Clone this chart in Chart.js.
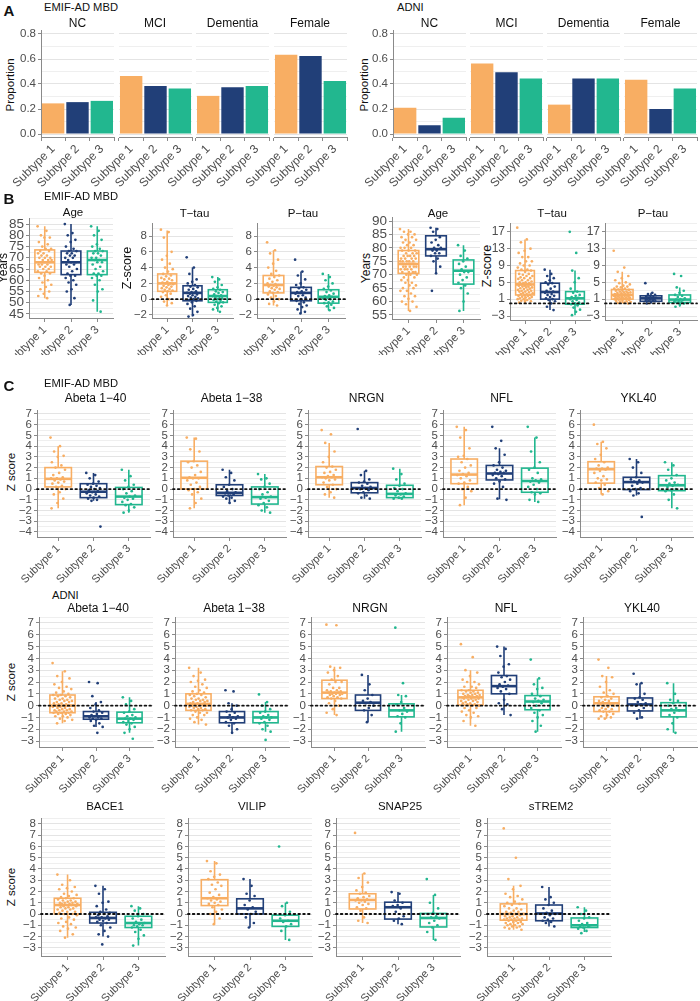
<!DOCTYPE html>
<html>
<head>
<meta charset="utf-8">
<script src="https://cdn.jsdelivr.net/npm/chart.js@4.4.1/dist/chart.umd.min.js"></script>
<style>
  body { margin: 0; background: #fff; width: 700px; height: 1001px; position: relative; overflow: hidden;
         font-family: 'Liberation Sans', Arial, sans-serif; }
  canvas { position: absolute; }
  .t { position: absolute; white-space: nowrap; color: #111; line-height: 1; }
</style>
</head>
<body>
<script>
// Subtype groups and colours
const subtypes = ['Subtype 1', 'Subtype 2', 'Subtype 3'];
const subtypeColors = ['#F8AE63', '#213F78', '#22B78F'];

// ---- Panel A: proportions (Subtype 1, 2, 3) per facet
const facetsA = ['NC', 'MCI', 'Dementia', 'Female'];
const emifProportions = [[0.245, 0.255, 0.265], [0.465, 0.385, 0.365], [0.305, 0.375, 0.385], [0.635, 0.625, 0.425]];
const adniProportions = [[0.21, 0.07, 0.13], [0.565, 0.495, 0.445], [0.235, 0.445, 0.445], [0.435, 0.20, 0.365]];

// tick labels
const propTicks = [0, 0.2, 0.4, 0.6, 0.8];
const ageTicksEmif = [45, 50, 55, 60, 65, 70, 75, 80, 85];
const ageTicksAdni = [55, 60, 65, 70, 75, 80, 85, 90];
const tauTicksEmif = [-2, 0, 2, 4, 6, 8];
const tauTicksAdni = [-3, 1, 5, 9, 13, 17];
const zTicksEmif = [-4, -3, -2, -1, 0, 1, 2, 3, 4, 5, 6, 7];
const zTicksAdni = [-3, -2, -1, 0, 1, 2, 3, 4, 5, 6, 7];
const zTicksLast = [-3, -2, -1, 0, 1, 2, 3, 4, 5, 6, 7, 8];

// ---- Panel B: box stats [low whisker, q1, median, q3, high whisker] and points
const emifAgeStats = [[52, 63.5, 68, 73.5, 84], [49, 62.5, 68, 73, 85], [46, 62.5, 69, 73, 84]];
const emifAgePoints = [
  [84, 82, 80, 79, 79, 77, 76, 75, 74, 74, 73, 73, 72, 72, 71, 71, 70, 70, 70, 69, 69, 69, 68, 68, 68, 68, 67, 67, 67, 66, 66, 66, 65, 65, 64, 64, 63, 63, 62, 61, 60, 59, 58, 57, 56, 55, 54, 53, 52],
  [85, 81, 80, 78, 77, 75, 74, 73, 73, 72, 72, 71, 71, 70, 70, 69, 68, 68, 67, 67, 66, 65, 64, 63, 62, 62, 61, 60, 59, 58, 56, 55, 52, 49],
  [84, 82, 80, 78, 76, 75, 74, 73, 73, 72, 72, 71, 70, 70, 69, 69, 68, 68, 67, 66, 65, 64, 63, 63, 62, 62, 61, 60, 58, 56, 55, 51, 46]
];
const emifTtauStats = [[-0.8, 1.0, 2.0, 3.2, 8.7], [-2.2, -0.2, 0.8, 1.7, 4.0], [-1.6, -0.4, 0.4, 1.2, 2.8]];
const emifTtauPoints = [
  [8.8, 8.5, 7.8, 6.0, 5.5, 5.0, 4.5, 4.0, 3.8, 3.5, 3.2, 3.0, 2.9, 2.7, 2.6, 2.5, 2.4, 2.2, 2.1, 2.0, 2.0, 1.9, 1.8, 1.7, 1.6, 1.5, 1.4, 1.3, 1.2, 1.1, 1.0, 0.9, 0.7, 0.5, 0.3, 0.0, -0.3, -0.5, -0.8],
  [5.3, 4.0, 3.2, 2.5, 2.2, 2.0, 1.8, 1.6, 1.5, 1.3, 1.2, 1.0, 0.9, 0.8, 0.8, 0.7, 0.6, 0.5, 0.4, 0.3, 0.2, 0.1, 0.0, -0.1, -0.2, -0.4, -0.6, -0.9, -1.2, -1.6, -2.0, -2.2],
  [2.8, 2.5, 2.2, 1.8, 1.5, 1.3, 1.2, 1.0, 0.9, 0.8, 0.6, 0.5, 0.4, 0.4, 0.3, 0.2, 0.1, 0.0, -0.1, -0.2, -0.3, -0.4, -0.5, -0.7, -0.9, -1.1, -1.3, -1.6]
];
const emifPtauStats = [[-0.8, 0.8, 1.8, 3.0, 6.2], [-1.8, -0.2, 0.8, 1.5, 3.5], [-1.4, -0.5, 0.3, 1.2, 3.2]];
const emifPtauPoints = [
  [7.2, 6.2, 5.8, 5.0, 4.5, 4.0, 3.6, 3.2, 3.0, 2.8, 2.6, 2.4, 2.2, 2.0, 1.9, 1.8, 1.8, 1.7, 1.6, 1.5, 1.4, 1.3, 1.2, 1.0, 0.9, 0.8, 0.6, 0.4, 0.2, 0.0, -0.3, -0.6, -0.8],
  [5.0, 3.5, 3.0, 2.5, 2.0, 1.8, 1.5, 1.4, 1.2, 1.0, 0.9, 0.8, 0.8, 0.7, 0.5, 0.4, 0.2, 0.0, -0.2, -0.4, -0.6, -0.8, -1.0, -1.3, -1.6, -1.8],
  [3.2, 2.8, 2.4, 2.0, 1.6, 1.3, 1.1, 0.9, 0.7, 0.5, 0.4, 0.3, 0.2, 0.1, 0.0, -0.1, -0.3, -0.4, -0.5, -0.7, -0.9, -1.1, -1.4]
];
const adniAgeStats = [[56.5, 70.5, 74, 79, 87], [70.5, 77, 79.5, 84.5, 87.5], [56.5, 66.5, 71.5, 75.5, 81]];
const adniAgePoints = [
  [87, 86, 86, 85, 85, 84, 84, 83, 83, 82, 82, 81, 81, 80, 80, 80, 79, 79, 79, 78, 78, 78, 77, 77, 77, 77, 76, 76, 76, 76, 75, 75, 75, 75, 75, 74, 74, 74, 74, 74, 74, 73, 73, 73, 73, 73, 72, 72, 72, 72, 71, 71, 71, 71, 70, 70, 70, 69, 69, 68, 68, 67, 67, 66, 66, 65, 65, 64, 64, 63, 62, 62, 61, 60, 60, 59, 58, 56.5],
  [87.5, 87, 86, 84, 83, 82, 81, 80, 80, 79, 79, 78, 78, 77, 76, 75, 73, 70.5, 64],
  [81, 79, 77, 76, 75, 74, 73, 72, 71, 71, 70, 69, 68, 67, 66, 65, 63, 60, 56.5]
];
const adniTtauStats = [[0.2, 2.0, 4.5, 7.8, 15.2], [-1.6, 1.0, 2.7, 4.8, 8.0], [-2.8, -0.2, 1.2, 2.8, 7.8]];
const adniTtauPoints = [
  [18, 15.2, 14.5, 13, 12.5, 12, 11, 11, 10, 10, 9.5, 9, 9, 8.5, 8, 8, 7.8, 7.5, 7, 7, 6.8, 6.5, 6.5, 6.2, 6, 6, 5.8, 5.5, 5.5, 5.2, 5, 5, 4.8, 4.8, 4.6, 4.5, 4.5, 4.4, 4.2, 4.2, 4, 4, 3.8, 3.8, 3.6, 3.5, 3.4, 3.2, 3.2, 3, 3, 2.8, 2.8, 2.6, 2.5, 2.4, 2.2, 2.2, 2, 2, 1.8, 1.8, 1.6, 1.5, 1.4, 1.2, 1.2, 1, 1, 0.8, 0.6, 0.5, 0.4, 0.2],
  [8, 7, 6.5, 6, 5.5, 5, 4.8, 4.5, 4, 3.5, 3, 2.8, 2.7, 2.5, 2.2, 2, 1.8, 1.5, 1.2, 1, 0.8, 0.5, 0, -0.8, -1.6],
  [17, 12, 7.8, 6, 5, 3.5, 2.8, 2.5, 2, 1.8, 1.5, 1.3, 1.2, 1, 0.8, 0.5, 0.2, 0, -0.2, -0.5, -1, -1.5, -2, -2.8]
];
const adniPtauStats = [[0, 1.0, 2.0, 3.3, 7.5], [0, 0.5, 1.2, 1.8, 2.5], [-0.8, 0.2, 0.9, 2.0, 3.8]];
const adniPtauPoints = [
  [12.5, 8.5, 7.5, 6.5, 6, 5.5, 5, 4.8, 4.5, 4.2, 4, 4, 3.8, 3.5, 3.5, 3.3, 3.2, 3, 3, 2.8, 2.8, 2.6, 2.6, 2.5, 2.5, 2.4, 2.2, 2.2, 2.1, 2, 2, 2, 1.9, 1.9, 1.8, 1.8, 1.7, 1.6, 1.5, 1.5, 1.4, 1.4, 1.3, 1.2, 1.2, 1.1, 1, 1, 1, 0.9, 0.8, 0.8, 0.6, 0.5, 0.4, 0.3, 0.2, 0.1, 0],
  [4.8, 2.5, 2.2, 2, 1.8, 1.7, 1.5, 1.4, 1.3, 1.2, 1.1, 1, 0.9, 0.8, 0.7, 0.6, 0.5, 0.3, 0],
  [7, 6.5, 3.8, 3, 2.5, 2, 1.8, 1.5, 1.2, 1, 0.9, 0.8, 0.6, 0.5, 0.3, 0.2, 0, -0.3, -0.8]
];

// ---- Panel C, EMIF-AD MBD
const emifAb40Stats = [[-1.8, 0.2, 0.95, 2.0, 4.0], [-1.1, -0.8, -0.25, 0.5, 1.5], [-2.2, -1.45, -0.7, 0.15, 1.8]];
const emifAb40Points = [
  [4.8, 4.0, 3.5, 3.1, 3.0, 2.5, 2.2, 2.0, 1.8, 1.5, 1.3, 1.1, 1.0, 1.0, 0.9, 0.8, 0.7, 0.6, 0.5, 0.3, 0.2, 0.0, -0.3, -0.5, -0.9, -1.3, -1.8],
  [1.5, 1.3, 1.0, 0.7, 0.5, 0.4, 0.3, 0.2, 0.1, 0.0, -0.1, -0.2, -0.3, -0.4, -0.5, -0.6, -0.7, -0.8, -0.9, -1.0, -1.1, -3.5],
  [1.8, 1.2, 0.8, 0.4, 0.2, 0.0, -0.2, -0.4, -0.6, -0.7, -0.8, -0.9, -1.0, -1.2, -1.4, -1.5, -1.7, -2.0, -2.2]
];
const emifAb38Stats = [[-1.8, 0.0, 1.05, 2.6, 4.8], [-1.3, -0.6, -0.35, 0.4, 1.8], [-2.2, -1.4, -0.75, 0.2, 1.4]];
const emifAb38Points = [
  [4.8, 4.7, 3.7, 3.5, 2.6, 2.5, 2.2, 2.0, 1.6, 1.3, 1.1, 1.0, 1.0, 0.8, 0.6, 0.4, 0.2, 0.0, -0.1, -0.3, -0.5, -0.9, -1.3, -1.8],
  [1.8, 1.5, 1.1, 0.8, 0.4, 0.2, 0.0, -0.2, -0.3, -0.4, -0.4, -0.5, -0.6, -0.7, -0.8, -0.9, -1.1, -1.3],
  [1.4, 1.0, 0.9, 0.5, 0.2, 0.0, -0.3, -0.5, -0.7, -0.8, -0.9, -1.1, -1.3, -1.5, -1.7, -2.0, -2.2]
];
const emifNrgnStats = [[-0.8, 0.4, 1.1, 2.1, 4.3], [-0.9, -0.35, 0.1, 0.6, 1.7], [-0.9, -0.8, -0.45, 0.35, 1.9]];
const emifNrgnPoints = [
  [5.5, 5.1, 4.3, 3.5, 3.0, 2.5, 2.1, 2.0, 1.8, 1.6, 1.5, 1.3, 1.2, 1.1, 1.1, 1.0, 0.9, 0.8, 0.6, 0.4, 0.2, 0.0, -0.3, -0.5, -0.8],
  [5.6, 1.7, 1.3, 0.9, 0.7, 0.6, 0.5, 0.3, 0.2, 0.1, 0.0, -0.1, -0.3, -0.4, -0.6, -0.8, -0.9],
  [1.9, 1.4, 0.9, 0.5, 0.3, 0.1, 0.0, -0.2, -0.4, -0.5, -0.6, -0.7, -0.8, -0.9, -0.9]
];
const emifNflStats = [[-1.5, 0.5, 1.35, 2.8, 5.8], [-0.95, 0.85, 1.45, 2.2, 3.8], [-1.2, -0.3, 0.75, 1.95, 4.8]];
const emifNflPoints = [
  [5.8, 5.5, 4.8, 3.8, 3.1, 3.0, 2.8, 2.5, 2.2, 2.0, 1.7, 1.5, 1.4, 1.3, 1.2, 1.0, 0.8, 0.6, 0.5, 0.2, 0.0, -0.2, -0.8, -1.5],
  [5.8, 4.5, 3.8, 3.2, 2.5, 2.2, 2.0, 1.8, 1.7, 1.6, 1.5, 1.5, 1.4, 1.3, 1.2, 1.0, 0.9, 0.7, 0.5, 0.2, -0.9, -1.0],
  [5.8, 4.8, 3.5, 2.5, 2.0, 1.8, 1.5, 1.0, 0.9, 0.8, 0.7, 0.6, 0.4, 0.2, 0.0, -0.3, -0.4, -0.5, -1.0, -1.2]
];
const emifYkl40Stats = [[-0.5, 0.55, 1.85, 2.55, 4.4], [-0.6, -0.05, 0.65, 1.1, 2.8], [-1.8, -0.15, 0.35, 1.25, 2.5]];
const emifYkl40Points = [
  [6.0, 4.4, 4.2, 3.8, 3.2, 2.8, 2.5, 2.2, 2.0, 1.9, 1.9, 1.8, 1.7, 1.5, 1.2, 1.0, 0.9, 0.8, 0.6, 0.4, 0.1, -0.2, -0.5],
  [2.8, 2.5, 2.0, 1.5, 1.1, 0.9, 0.8, 0.7, 0.6, 0.5, 0.3, 0.1, 0.0, -0.2, -0.4, -0.6, -2.6],
  [2.5, 2.2, 1.8, 1.3, 1.0, 0.8, 0.6, 0.5, 0.4, 0.3, 0.2, 0.0, -0.1, -0.2, -0.5, -1.0, -1.8]
];

// ---- Panel C, ADNI
const adniAb40Stats = [[-1.5, -0.6, 0.0, 0.9, 2.9], [-1.8, -1.15, -0.9, -0.5, 0.3], [-2.3, -1.45, -1.1, -0.55, 0.7]];
const adniAb40Points = [
  [3.6, 2.9, 2.5, 2.3, 2.0, 1.8, 1.6, 1.5, 1.4, 1.2, 1.1, 1.0, 0.9, 0.9, 0.8, 0.8, 0.7, 0.6, 0.6, 0.5, 0.5, 0.4, 0.4, 0.3, 0.3, 0.2, 0.2, 0.1, 0.1, 0.0, 0.0, 0.0, 0.0, -0.1, -0.1, -0.2, -0.2, -0.3, -0.3, -0.4, -0.4, -0.4, -0.5, -0.5, -0.5, -0.6, -0.6, -0.6, -0.7, -0.7, -0.8, -0.9, -0.9, -1.0, -1.1, -1.2, -1.3, -1.5],
  [2.0, 1.9, 0.8, 0.3, 0.1, -0.2, -0.4, -0.5, -0.6, -0.7, -0.8, -0.9, -0.9, -1.0, -1.0, -1.1, -1.1, -1.2, -1.3, -1.5, -1.7, -1.8, -2.3],
  [0.7, 0.4, 0.1, -0.3, -0.5, -0.6, -0.8, -0.9, -1.0, -1.1, -1.1, -1.2, -1.3, -1.4, -1.5, -1.6, -1.8, -2.0, -2.3, -2.8]
];
const adniAb38Stats = [[-1.6, -0.4, 0.15, 1.0, 3.2], [-2.3, -1.45, -1.0, -0.5, 0.2], [-2.2, -1.45, -1.0, -0.5, 0.3]];
const adniAb38Points = [
  [3.2, 2.8, 2.5, 2.2, 2.1, 2.0, 1.8, 1.6, 1.5, 1.3, 1.2, 1.1, 1.0, 0.9, 0.9, 0.8, 0.7, 0.6, 0.6, 0.5, 0.5, 0.4, 0.4, 0.3, 0.3, 0.2, 0.2, 0.1, 0.1, 0.0, 0.0, 0.0, 0.0, -0.1, -0.1, -0.2, -0.2, -0.3, -0.3, -0.4, -0.4, -0.5, -0.6, -0.6, -0.8, -0.8, -1.0, -1.1, -1.2, -1.4, -1.6],
  [1.3, 1.2, 0.2, 0.0, -0.3, -0.5, -0.6, -0.8, -0.9, -1.0, -1.0, -1.1, -1.2, -1.4, -1.5, -1.7, -2.0, -2.3],
  [0.95, 0.3, 0.0, -0.3, -0.5, -0.6, -0.8, -0.9, -1.0, -1.0, -1.1, -1.2, -1.4, -1.5, -1.7, -2.0, -2.2, -2.9]
];
const adniNrgnStats = [[-0.8, 0.6, 1.1, 2.15, 3.3], [-1.4, -0.4, 0.25, 0.9, 2.6], [-2.2, -0.95, -0.4, 0.15, 0.9]];
const adniNrgnPoints = [
  [6.85, 6.8, 3.3, 3.2, 3.0, 2.8, 2.5, 2.2, 2.0, 2.0, 1.8, 1.5, 1.5, 1.3, 1.3, 1.2, 1.2, 1.1, 1.1, 1.1, 1.0, 1.0, 1.0, 0.9, 0.9, 0.8, 0.7, 0.7, 0.6, 0.6, 0.4, 0.2, 0.0, -0.3, -0.6, -0.8],
  [2.6, 1.8, 1.3, 0.9, 0.6, 0.4, 0.3, 0.2, 0.0, -0.2, -0.4, -0.8, -1.4],
  [6.6, 1.9, 0.9, 0.8, 0.3, 0.1, -0.2, -0.4, -0.5, -0.7, -0.9, -1.0, -1.5, -2.2]
];
const adniNflStats = [[-1.7, 0.05, 0.7, 1.3, 3.0], [-0.8, 1.0, 1.65, 2.55, 5.0], [-2.2, -0.35, 0.35, 0.85, 2.3]];
const adniNflPoints = [
  [5.2, 4.1, 3.0, 2.8, 2.5, 2.2, 2.0, 2.0, 1.8, 1.6, 1.6, 1.5, 1.3, 1.3, 1.2, 1.2, 1.1, 1.1, 1.0, 1.0, 0.9, 0.9, 0.9, 0.8, 0.8, 0.8, 0.7, 0.7, 0.7, 0.6, 0.6, 0.6, 0.5, 0.5, 0.4, 0.4, 0.3, 0.3, 0.2, 0.2, 0.1, 0.1, 0.0, 0.0, -0.2, -0.2, -0.4, -0.5, -0.6, -0.8, -0.9, -1.0, -1.3, -1.7],
  [5.0, 4.8, 4.2, 3.5, 3.3, 2.8, 2.5, 2.4, 2.2, 2.0, 1.8, 1.7, 1.6, 1.5, 1.4, 1.2, 1.0, 0.5, 0.2, 0.1, -0.3, -0.8],
  [3.9, 2.3, 1.8, 1.5, 1.4, 1.0, 0.8, 0.6, 0.5, 0.4, 0.3, 0.2, 0.0, -0.2, -0.4, -0.6, -0.8, -1.0, -1.3, -1.7, -2.2]
];
const adniYkl40Stats = [[-1.1, -0.5, 0.2, 0.75, 2.5], [-1.1, -0.45, 0.1, 0.65, 1.9], [-2.3, -0.95, -0.4, 0.25, 1.9]];
const adniYkl40Points = [
  [3.9, 3.2, 2.5, 2.4, 2.0, 1.6, 1.3, 1.1, 1.0, 0.8, 0.7, 0.6, 0.5, 0.4, 0.4, 0.3, 0.2, 0.2, 0.1, 0.1, 0.0, 0.0, -0.1, -0.2, -0.3, -0.3, -0.4, -0.5, -0.5, -0.7, -0.8, -0.9, -1.0, -1.1, -1.1],
  [2.7, 1.9, 1.8, 1.0, 0.7, 0.6, 0.5, 0.3, 0.2, 0.1, 0.0, -0.2, -0.4, -0.6, -1.0, -1.1],
  [1.9, 1.0, 0.5, 0.4, 0.2, 0.0, -0.2, -0.3, -0.4, -0.6, -0.8, -1.0, -1.5, -2.0, -2.3]
];
const bace1Stats = [[-2.1, 0.0, 0.8, 1.4, 3.5], [-2.0, -0.8, -0.35, 0.15, 2.5], [-2.8, -1.2, -0.8, -0.2, 0.7]];
const bace1Points = [
  [3.5, 3.0, 2.6, 2.4, 2.3, 2.2, 2.0, 1.8, 1.7, 1.6, 1.5, 1.4, 1.4, 1.3, 1.2, 1.2, 1.1, 1.1, 1.0, 1.0, 1.0, 0.9, 0.9, 0.9, 0.8, 0.8, 0.8, 0.8, 0.7, 0.7, 0.6, 0.6, 0.5, 0.5, 0.4, 0.4, 0.3, 0.2, 0.2, 0.1, 0.0, 0.0, -0.1, -0.3, -0.4, -0.5, -0.7, -0.8, -0.9, -1.1, -1.2, -1.3, -1.5, -1.8, -2.1],
  [2.5, 2.2, 1.8, 1.1, 1.0, 0.7, 0.4, 0.2, 0.1, 0.0, -0.1, -0.2, -0.3, -0.3, -0.4, -0.5, -0.5, -0.6, -0.7, -0.8, -1.0, -1.2, -1.5, -1.8, -2.0, -2.7],
  [0.7, 0.5, 0.3, 0.0, -0.2, -0.4, -0.5, -0.7, -0.8, -0.9, -1.0, -1.0, -1.1, -1.2, -1.4, -1.6, -1.9, -2.2, -2.8]
];
const vilipStats = [[-0.9, 0.75, 1.4, 3.05, 4.7], [-1.2, 0.0, 0.5, 1.35, 3.1], [-2.3, -1.1, -0.6, -0.1, 1.0]];
const vilipPoints = [
  [4.7, 4.5, 3.8, 3.5, 3.3, 3.1, 2.8, 2.6, 2.5, 2.2, 1.9, 1.7, 1.5, 1.4, 1.3, 1.2, 1.1, 1.0, 0.9, 0.8, 0.6, 0.4, 0.2, 0.0, -0.4, -0.9],
  [3.1, 2.5, 1.8, 1.6, 1.2, 0.8, 0.6, 0.4, 0.2, 0.0, -0.3, -0.8, -1.2],
  [6.0, 1.0, 0.7, 0.2, -0.1, -0.4, -0.6, -0.7, -0.9, -1.1, -1.5, -2.3]
];
const snap25Stats = [[-0.8, 0.45, 1.25, 1.8, 3.6], [-0.9, -0.45, 0.6, 1.05, 1.95], [-2.3, -1.15, -0.35, 0.05, 1.7]];
const snap25Points = [
  [7.2, 3.6, 3.2, 2.8, 2.4, 2.1, 1.9, 1.8, 1.6, 1.5, 1.4, 1.3, 1.2, 1.2, 1.1, 1.0, 0.9, 0.8, 0.6, 0.5, 0.3, 0.0, -0.3, -0.6, -0.8],
  [1.95, 1.8, 1.2, 1.0, 0.8, 0.7, 0.5, 0.2, -0.2, -0.4, -0.6, -0.9],
  [3.1, 1.7, 1.0, 0.5, 0.1, 0.0, -0.2, -0.3, -0.4, -0.6, -0.8, -1.0, -1.2, -1.6, -2.3]
];
const strem2Stats = [[-1.4, -0.55, 0.0, 0.9, 2.5], [-1.1, -0.6, 0.05, 0.8, 2.4], [-1.6, -1.2, -1.0, -0.35, 0.6]];
const strem2Points = [
  [7.6, 5.0, 3.1, 2.5, 2.2, 1.8, 1.6, 1.5, 1.3, 1.1, 1.0, 0.9, 0.8, 0.7, 0.5, 0.5, 0.4, 0.3, 0.2, 0.2, 0.1, 0.0, 0.0, 0.0, -0.1, -0.2, -0.2, -0.3, -0.3, -0.4, -0.4, -0.4, -0.5, -0.5, -0.5, -0.6, -0.6, -0.7, -0.7, -0.8, -0.8, -0.9, -0.9, -1.0, -1.0, -1.1, -1.1, -1.2, -1.2, -1.3, -1.4],
  [2.4, 1.5, 1.3, 1.0, 0.8, 0.5, 0.3, 0.1, 0.0, -0.1, -0.3, -0.4, -0.5, -0.6, -0.7, -0.8, -1.1],
  [0.6, 0.3, 0.0, -0.3, -0.4, -0.6, -0.8, -0.9, -1.0, -1.0, -1.1, -1.1, -1.2, -1.3, -1.5, -1.7]
];

// ------------------------------------------------------------------
const FONT = "'Liberation Sans', Arial, sans-serif";
Chart.defaults.font.family = FONT;
Chart.defaults.color = '#4d4d4d';
Chart.defaults.plugins.legend.display = false;
Chart.defaults.plugins.tooltip.enabled = false;

const AXIS = '#8a8a8a';
const isMajor = (major, v) => major.some(m => Math.abs(m - v) < 1e-6);
const fmtNum = v => (v < 0 ? '\u2212' + Math.abs(v) : String(v));
// spread points sideways inside their group (pure layout, values untouched)
const jitter = (k, spread) => (((k * 0.618034) % 1) - 0.5) * spread;

// major ticks + the half-way minor grid lines within [min, max]
function gridValues(major, min, max) {
  const half = (major[1] - major[0]) / 2;
  const out = [];
  for (let v = major[0] - 2 * half; v <= max + 1e-9; v += half) {
    if (v >= min - 1e-9) out.push(+v.toFixed(4));
  }
  return out;
}

function text(str, x, y, size, opts = {}) {
  const d = document.createElement('div');
  d.className = 't';
  d.textContent = str;
  d.style.left = x + 'px';
  d.style.top = y + 'px';
  d.style.fontSize = size + 'px';
  if (opts.bold) d.style.fontWeight = 'bold';
  let tf = opts.left ? 'translate(0,-50%)' : 'translate(-50%,-50%)';
  if (opts.rotate) tf += ' rotate(-90deg)';
  d.style.transform = tf;
  document.body.appendChild(d);
}

// draws the boxes under the points and the dotted zero line over them
const boxPlugin = {
  id: 'boxes',
  beforeDatasetsDraw(chart, args, opts) {
    if (!opts || !opts.stats) return;
    const { ctx, scales: { x, y } } = chart;
    ctx.save();
    opts.stats.forEach((s, i) => {
      const [lo, q1, med, q3, hi] = s;
      const xc = x.getPixelForValue(i + 1);
      const half = x.getPixelForValue(i + 1.375) - xc;
      ctx.strokeStyle = subtypeColors[i];
      ctx.lineWidth = 1.6;
      ctx.beginPath();
      ctx.moveTo(xc, y.getPixelForValue(hi)); ctx.lineTo(xc, y.getPixelForValue(q3));
      ctx.moveTo(xc, y.getPixelForValue(q1)); ctx.lineTo(xc, y.getPixelForValue(lo));
      ctx.stroke();
      const top = y.getPixelForValue(q3), bot = y.getPixelForValue(q1);
      ctx.strokeRect(xc - half, top, 2 * half, bot - top);
      ctx.lineWidth = 2.6;
      ctx.beginPath();
      ctx.moveTo(xc - half, y.getPixelForValue(med)); ctx.lineTo(xc + half, y.getPixelForValue(med));
      ctx.stroke();
    });
    ctx.restore();
  },
  afterDatasetsDraw(chart, args, opts) {
    if (!opts || !opts.zero) return;
    const { ctx, chartArea: a, scales: { y } } = chart;
    const py = y.getPixelForValue(0);
    ctx.save();
    ctx.setLineDash([1.6, 3.2]);
    ctx.lineCap = 'round';
    ctx.lineWidth = 1.8;
    ctx.strokeStyle = '#111';
    ctx.beginPath(); ctx.moveTo(a.left, py); ctx.lineTo(a.right, py); ctx.stroke();
    ctx.restore();
  }
};
Chart.register(boxPlugin);

function yScale(p, showLabels) {
  const vals = gridValues(p.ticks, p.min, p.max);
  return {
    min: p.min, max: p.max,
    afterBuildTicks: s => { s.ticks = vals.map(v => ({ value: v })); },
    afterFit: s => { s.width = p.yw; s.paddingTop = 0; s.paddingBottom = 0; },
    ticks: {
      display: showLabels, autoSkip: false, padding: 2, color: '#4d4d4d',
      font: { size: p.tick, lineHeight: 1 },
      callback: v => (isMajor(p.ticks, v) ? (p.fmt || fmtNum)(v) : '')
    },
    grid: {
      color: c => (c.tick && isMajor(p.ticks, c.tick.value) ? '#e4e4e4' : '#efefef'),
      lineWidth: 1, drawTicks: showLabels, tickLength: 3,
      tickColor: c => (c.tick && isMajor(p.ticks, c.tick.value) ? AXIS : 'rgba(0,0,0,0)')
    },
    border: { display: showLabels, color: AXIS, width: 1 }
  };
}

function xScale(p, linear) {
  const sc = {
    afterFit: s => { s.height = p.xh; s.paddingLeft = 0; s.paddingRight = 0; },
    ticks: {
      autoSkip: false, minRotation: 45, maxRotation: 45, padding: 1, color: '#4d4d4d',
      font: { size: p.xtick || 11 }
    },
    grid: { drawOnChartArea: false, drawTicks: true, tickLength: 4, tickColor: AXIS },
    border: { display: true, color: AXIS, width: 1 }
  };
  if (linear) {
    Object.assign(sc, {
      type: 'linear', min: p.xr[0], max: p.xr[1],
      afterBuildTicks: s => { s.ticks = [1, 2, 3].map(v => ({ value: v })); }
    });
    sc.ticks.callback = v => subtypes[v - 1];
  }
  return sc;
}

function mount(p, config) {
  const PAD = 10, RIGHT = 6;
  const cv = document.createElement('canvas');
  const W = Math.round(p.yw + p.w + RIGHT), H = Math.round(PAD + p.h + p.xh);
  cv.width = W; cv.height = H;
  cv.style.left = (p.x - p.yw) + 'px';
  cv.style.top = (p.y - PAD) + 'px';
  cv.style.width = W + 'px';
  cv.style.height = H + 'px';
  document.body.appendChild(cv);
  Object.assign(config.options, {
    responsive: false, animation: false, devicePixelRatio: 1,
    layout: { padding: { top: PAD, right: RIGHT, left: 0, bottom: 0 } }
  });
  return new Chart(cv, config);
}

function barFacet(p, vals, first) {
  mount(p, {
    type: 'bar',
    data: {
      labels: subtypes,
      datasets: [{ data: vals, backgroundColor: subtypeColors, borderWidth: 0, barPercentage: 0.92, categoryPercentage: 1 }]
    },
    options: { scales: { x: xScale(p, false), y: yScale(p, first) } }
  });
}

function boxChart(p) {
  mount(p, {
    type: 'scatter',
    data: {
      datasets: p.pts.map((vals, i) => {
        const spread = Math.min(0.62, 0.3 + vals.length * 0.005);
        return {
          data: vals.map((v, k) => ({ x: i + 1 + jitter(k, spread), y: v })),
          backgroundColor: subtypeColors[i], borderWidth: 0, pointRadius: 1.35, pointHoverRadius: 0
        };
      })
    },
    options: {
      scales: { x: xScale(p, true), y: yScale(p, true) },
      plugins: { boxes: { stats: p.stats, zero: p.zero } }
    }
  });
  text(p.title, p.x + p.w / 2 + 2, p.ty, p.tsize || 12);
}

// ---------------- Panel A
text('A', 9, 10, 15, { bold: true });
text('EMIF-AD MBD', 44, 8, 11.2, { left: true });
text('ADNI', 397, 8, 11.2, { left: true });
text('Proportion', 11, 85, 11.5, { rotate: true });
text('Proportion', 365, 85, 11.5, { rotate: true });
const aLeftsEmif = [41, 118.5, 196, 273.5];
const aLeftsAdni = [393, 470, 547, 624];
[[aLeftsEmif, emifProportions, 41], [aLeftsAdni, adniProportions, 30]].forEach(([lefts, props, firstYw]) => {
  lefts.forEach((x, f) => {
    const p = { x, y: 30, w: 73, h: 107, xh: 56, yw: f === 0 ? firstYw : 30, min: -0.024, max: 0.832,
                ticks: propTicks, tick: 11.5, xtick: 12, fmt: v => v.toFixed(1) };
    barFacet(p, props[f], f === 0);
    text(facetsA[f], x + 36.5, 23, 12);
  });
});

// ---------------- Panel B
text('B', 9, 198, 15, { bold: true });
text('EMIF-AD MBD', 44, 197, 11.2, { left: true });
text('Years', 3, 268, 12, { rotate: true });
text('Z-score', 127, 268, 12.5, { rotate: true });
text('Years', 366, 268, 12, { rotate: true });
text('Z-score', 487, 266, 12.5, { rotate: true });
const panelsB = [
  { x: 29, y: 218, w: 84, h: 100, xh: 37, yw: 29, min: 43.2, max: 87.7, ticks: ageTicksEmif, tick: 13.5,
    stats: emifAgeStats, pts: emifAgePoints, zero: false, title: 'Age', ty: 213 },
  { x: 152, y: 223, w: 81, h: 95, xh: 37, yw: 30, min: -2.38, max: 9.65, ticks: tauTicksEmif, tick: 11.5,
    stats: emifTtauStats, pts: emifTtauPoints, zero: true, title: 'T\u2212tau', ty: 214 },
  { x: 257, y: 223, w: 88, h: 95, xh: 37, yw: 30, min: -2.38, max: 9.65, ticks: tauTicksEmif, tick: 11.5,
    stats: emifPtauStats, pts: emifPtauPoints, zero: true, title: 'P\u2212tau', ty: 214 },
  { x: 392, y: 217, w: 88, h: 102, xh: 36, yw: 30, min: 53.5, max: 91.5, ticks: ageTicksAdni, tick: 13.5,
    stats: adniAgeStats, pts: adniAgePoints, zero: false, title: 'Age', ty: 214 },
  { x: 510, y: 223, w: 80, h: 97, xh: 35, yw: 28, min: -3.95, max: 19.1, ticks: tauTicksAdni, tick: 12,
    stats: adniTtauStats, pts: adniTtauPoints, zero: true, title: 'T\u2212tau', ty: 214 },
  { x: 605, y: 223, w: 92, h: 97, xh: 35, yw: 28, min: -3.95, max: 19.1, ticks: tauTicksAdni, tick: 12,
    stats: adniPtauStats, pts: adniPtauPoints, zero: true, title: 'P\u2212tau', ty: 214 }
];
panelsB.forEach(p => boxChart(Object.assign({ xr: [0.4, 3.6], xtick: 11.5, tsize: 11.5 }, p)));

// ---------------- Panel C
text('C', 9, 385, 15, { bold: true });
text('EMIF-AD MBD', 44, 384, 11.2, { left: true });
text('ADNI', 52, 596, 11.2, { left: true });
text('Z score', 12, 472, 11.5, { rotate: true });
text('Z score', 12, 682, 11.5, { rotate: true });
text('Z score', 12, 887, 11.5, { rotate: true });

const rowEmif = [
  ['Abeta 1\u221240', emifAb40Stats, emifAb40Points], ['Abeta 1\u221238', emifAb38Stats, emifAb38Points],
  ['NRGN', emifNrgnStats, emifNrgnPoints], ['NFL', emifNflStats, emifNflPoints], ['YKL40', emifYkl40Stats, emifYkl40Points]
];
const rowAdni = [
  ['Abeta 1\u221240', adniAb40Stats, adniAb40Points], ['Abeta 1\u221238', adniAb38Stats, adniAb38Points],
  ['NRGN', adniNrgnStats, adniNrgnPoints], ['NFL', adniNflStats, adniNflPoints], ['YKL40', adniYkl40Stats, adniYkl40Points]
];
const rowLast = [
  ['BACE1', bace1Stats, bace1Points], ['VILIP', vilipStats, vilipPoints],
  ['SNAP25', snap25Stats, snap25Points], ['sTREM2', strem2Stats, strem2Points]
];

[37, 173, 308, 443, 580].forEach((x, i) => boxChart({
  x, y: 410, w: 113, h: 127, xh: 50, yw: 30, min: -4.47, max: 7.37, ticks: zTicksEmif, tick: 11.5,
  xr: [0.4, 3.6], title: rowEmif[i][0], stats: rowEmif[i][1], pts: rowEmif[i][2], zero: true, ty: 398
}));
[39, 175, 311, 447, 583].forEach((x, i) => boxChart({
  x, y: 617, w: 114, h: 130, xh: 50, yw: 30, min: -3.5, max: 7.5, ticks: zTicksAdni, tick: 11.5,
  xr: [0.3, 3.7], title: rowAdni[i][0], stats: rowAdni[i][1], pts: rowAdni[i][2], zero: true, ty: 608
}));
[41, 188, 336, 487].forEach((x, i) => boxChart({
  x, y: 818, w: 124, h: 138, xh: 45, yw: 30, min: -3.73, max: 8.53, ticks: zTicksLast, tick: 11.5,
  xr: [0.25, 3.75], title: rowLast[i][0], stats: rowLast[i][1], pts: rowLast[i][2], zero: true, ty: 807, tsize: 11.5
}));
</script>
</body>
</html>
